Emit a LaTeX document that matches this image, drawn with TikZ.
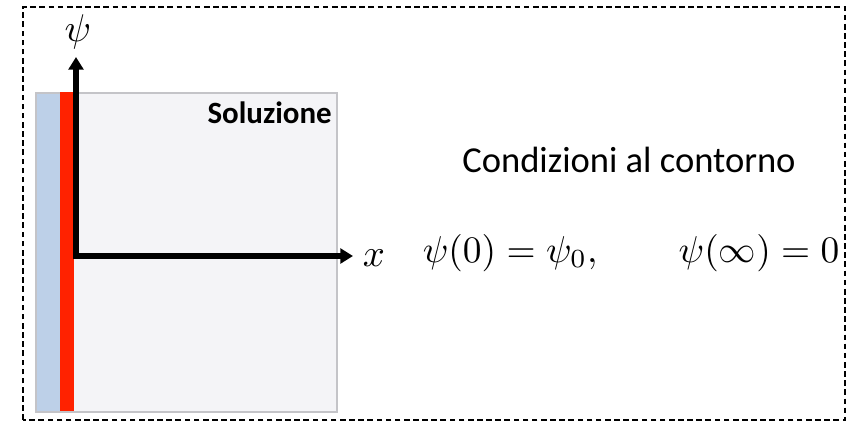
\documentclass[tikz,border=0pt]{standalone}
\usepackage{amsmath}
\usepackage{fontspec}
\setmainfont{Carlito}
\usepackage{tikz}
\usetikzlibrary{arrows.meta, positioning}

\definecolor{strato}{HTML}{BDD0E8}
\definecolor{carica}{HTML}{FF2200}
\definecolor{fondo}{HTML}{F4F4F7}
\definecolor{bordo}{HTML}{C4C4C8}

\tikzset{
	asse/.style={line width=3.6pt, -{Triangle[width=10.5pt,length=9pt]}},
	testo/.style={inner sep=0pt},
	formula/.style={inner sep=0pt, font=\fontsize{10}{12}\selectfont, scale=#1, transform shape}
}

\begin{document}
\begin{tikzpicture}[scale=1.0]
		\useasboundingbox (0,0) rectangle (21.525,10.55);
		
		% Dashed frame
		\draw[dashed, line width=0.9pt, dash pattern=on 4pt off 2.5pt] (0.575,0.05) rectangle (21.125,10.375);
		
		% Solution box, layer and charged wall
		\filldraw[fill=fondo, draw=bordo, line width=1pt] (0.9,0.25) rectangle (8.425,8.225);
		\fill[strato] (0.92,0.27) rectangle (1.5,8.205);
		\fill[carica] (1.5,0.27) rectangle (1.85,8.25);
		
		\node[testo, anchor=east, font=\fontsize{22}{26}\selectfont\bfseries] (sol) at (8.3,7.725) {Soluzione};
		
		% Axes
		\coordinate (O) at (1.9,4.15);
		\coordinate (ytip) at (1.9,9.125);
		\coordinate (xtip) at (8.825,4.15);
		\draw[asse] (O) -- (ytip);
		\draw[asse] ([xshift=-1.8pt]O) -- (xtip);
		\node[formula=2.75] (psi) at (1.95,9.75) {$\psi$};
		\node[formula=2.75, anchor=west] (xlab) at (9.05,4.1) {$x$};
		
		% Boundary conditions
		\node[testo, anchor=base, font=\fontsize{26}{30}\selectfont] (cond) at (15.725,6.25) {Condizioni al contorno};
		\node[formula=2.66, anchor=base west] (bc) at (10.55,4.0)
		{$\psi(0) = \psi_0, \qquad \psi(\infty) = 0$};
	\end{tikzpicture}
\end{document}
